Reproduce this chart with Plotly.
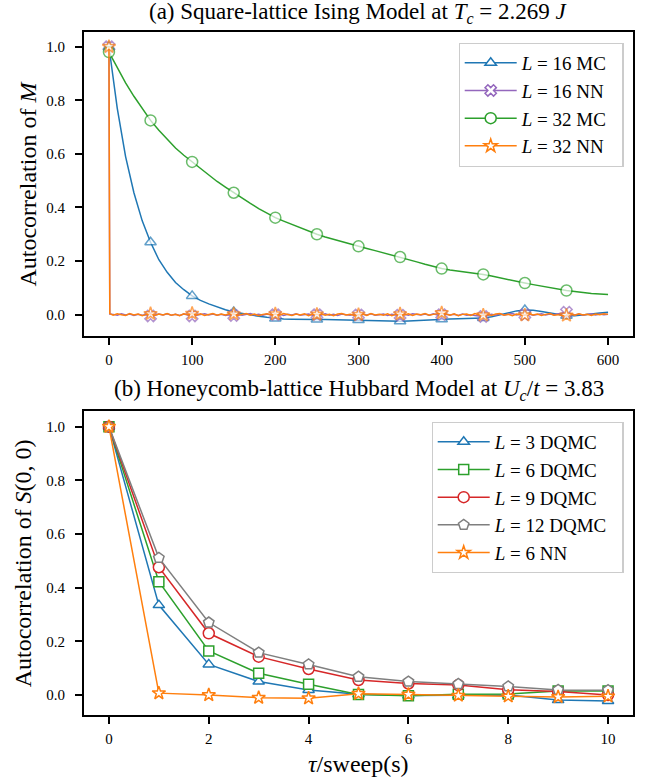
import plotly.graph_objects as go

# ---------------- data: panel (a) ----------------
tau_mc = list(range(0, 601, 10))
acf_L16_mc = [1.0, 0.77, 0.59, 0.455, 0.35, 0.27, 0.205, 0.158, 0.12, 0.093,
              0.07, 0.053, 0.04, 0.028, 0.018, 0.01, 0.004, -0.001, -0.006, -0.01,
              -0.014, -0.016, -0.017, -0.018, -0.018, -0.018, -0.018, -0.019, -0.019, -0.02,
              -0.02, -0.021, -0.022, -0.023, -0.024, -0.025, -0.024, -0.022, -0.02, -0.018,
              -0.017, -0.016, -0.015, -0.015, -0.014, -0.013, -0.008, 0.0, 0.008, 0.014,
              0.017, 0.016, 0.012, 0.006, 0.0, -0.004, -0.004, -0.002, 0.002, 0.006,
              0.009]
acf_L32_mc = [0.98, 0.92, 0.865, 0.815, 0.768, 0.725, 0.688, 0.653, 0.622, 0.595,
              0.57, 0.545, 0.52, 0.497, 0.476, 0.455, 0.435, 0.415, 0.396, 0.378,
              0.362, 0.349, 0.336, 0.324, 0.312, 0.30, 0.29, 0.281, 0.272, 0.263,
              0.255, 0.247, 0.239, 0.231, 0.223, 0.215, 0.206, 0.197, 0.188, 0.18,
              0.172, 0.167, 0.163, 0.159, 0.155, 0.15, 0.144, 0.137, 0.13, 0.124,
              0.118, 0.112, 0.106, 0.10, 0.095, 0.09, 0.086, 0.082, 0.079, 0.077,
              0.075]

tau_nn = [0, 1] + list(range(5, 601, 5))
acf_L16_nn = [1.0, 0.002,
              0.001, -0.002, 0.003, -0.001, 0.002, -0.003, 0.001, -0.002, 0.000, -0.005,
              -0.002, 0.002, -0.001, 0.003, -0.002, 0.001, -0.003, 0.002, -0.001, -0.005,
              -0.002, 0.001, 0.003, -0.001, 0.002, -0.002, 0.001, -0.003, 0.000, -0.003,
              0.001, -0.002, 0.002, 0.004, -0.001, 0.001, -0.002, 0.002, -0.001, 0.000,
              0.002, -0.003, 0.001, -0.001, 0.003, -0.002, 0.000, 0.002, -0.002, 0.000,
              -0.001, 0.003, -0.002, 0.001, -0.003, 0.002, 0.000, -0.002, 0.001, -0.001,
              0.002, -0.001, 0.003, -0.002, 0.000, 0.002, -0.003, 0.001, -0.001, -0.002,
              0.001, -0.002, 0.003, 0.000, -0.001, 0.002, -0.002, 0.003, -0.001, 0.000,
              0.002, -0.001, 0.001, -0.003, 0.002, -0.002, 0.000, -0.003, -0.004, -0.007,
              -0.003, 0.001, -0.002, 0.003, -0.001, 0.002, 0.004, -0.001, 0.001, 0.000,
              0.002, -0.002, 0.001, 0.003, -0.001, 0.002, 0.000, 0.004, 0.006, 0.009,
              0.003, -0.001, 0.002, -0.002, 0.001, 0.003, -0.001, 0.002, 0.000, 0.001]
acf_L32_nn = [1.0, 0.004,
              -0.002, 0.003, 0.000, -0.003, 0.004, -0.001, 0.002, -0.004, 0.001, 0.003,
              -0.003, 0.002, -0.001, 0.004, -0.002, 0.001, -0.004, 0.003, 0.000, 0.004,
              -0.002, 0.003, -0.003, 0.001, 0.004, -0.002, 0.002, -0.001, 0.003, 0.002,
              -0.003, 0.001, 0.004, -0.002, 0.002, -0.004, 0.001, 0.003, -0.001, 0.002,
              -0.002, 0.004, 0.000, -0.003, 0.002, -0.001, 0.003, -0.004, 0.002, 0.001,
              0.003, -0.002, 0.001, -0.004, 0.002, 0.004, -0.001, 0.001, -0.003, 0.000,
              0.002, -0.003, 0.004, -0.001, 0.001, -0.002, 0.003, -0.004, 0.001, 0.002,
              -0.001, 0.003, -0.003, 0.002, 0.000, 0.004, -0.002, 0.001, 0.003, 0.006,
              0.002, -0.002, 0.003, -0.004, 0.001, 0.002, -0.003, 0.004, -0.001, -0.002,
              0.001, -0.003, 0.002, 0.004, -0.002, 0.001, -0.004, 0.002, 0.000, -0.002,
              0.003, -0.001, 0.002, -0.003, 0.001, 0.004, -0.002, 0.000, -0.004, -0.003,
              0.002, -0.002, 0.003, -0.001, 0.001, -0.003, 0.002, 0.000, 0.003, 0.001]

xticks_a = [0, 100, 200, 300, 400, 500, 600]
yticks = [0.0, 0.2, 0.4, 0.6, 0.8, 1.0]

# ---------------- data: panel (b) ----------------
tau_b = [0, 1, 2, 3, 4, 5, 6, 7, 8, 9, 10]
acf_L3_dqmc = [1.0, 0.335, 0.114, 0.05, 0.019, 0.003, -0.002, -0.002, 0.0, -0.019, -0.022]
acf_L6_dqmc = [1.0, 0.422, 0.164, 0.081, 0.04, 0.002, -0.003, 0.003, 0.004, 0.015, 0.015]
acf_L9_dqmc = [1.0, 0.476, 0.23, 0.143, 0.097, 0.056, 0.043, 0.037, 0.02, 0.013, 0.0]
acf_L12_dqmc = [1.0, 0.511, 0.27, 0.158, 0.114, 0.068, 0.05, 0.041, 0.032, 0.019, 0.018]
acf_L6_nn = [1.0, 0.007, 0.0, -0.01, -0.012, 0.005, 0.002, -0.002, -0.005, -0.007, -0.005]
xticks_b = [0, 2, 4, 6, 8, 10]

BLUE, PURPLE, GREEN, ORANGE, RED, GREY = '#1f77b4', '#9467bd', '#2ca02c', '#ff7f0e', '#d62728', '#7f7f7f'
FONT = 'Liberation Serif'
LW = 1.5
MLW = 1.5
PAD = '\u00a0\u00a0'  # right padding inside the legend box


def lab(L, kind):
    return '<i>L</i> = ' + str(L) + ' ' + kind + PAD


fig = go.Figure()


def add_dense(tau, vals, color, symbol, name, size):
    marked = [(t % 50 == 0 and t <= 550) for t in tau]
    sizes = [size if m else 0 for m in marked]
    widths = [MLW if m else 0 for m in marked]
    # data curve, markers every 50 sweeps
    fig.add_trace(go.Scatter(
        x=tau, y=vals, mode='lines+markers', name=name, legendgroup=name, showlegend=False,
        line=dict(color=color, width=LW),
        marker=dict(symbol=symbol, size=sizes, color='white',
                    line=dict(color=color, width=widths)),
        xaxis='x', yaxis='y'))
    # legend key only (no data)
    fig.add_trace(go.Scatter(
        x=[None], y=[None], mode='lines+markers', name=name, legendgroup=name,
        line=dict(color=color, width=LW),
        marker=dict(symbol=symbol, size=size, color='white', line=dict(color=color, width=MLW)),
        xaxis='x', yaxis='y', legend='legend'))


add_dense(tau_mc, acf_L16_mc, BLUE, 'triangle-up', lab(16, 'MC'), 10)
add_dense(tau_nn, acf_L16_nn, PURPLE, 'x', lab(16, 'NN'), 10)
add_dense(tau_mc, acf_L32_mc, GREEN, 'circle', lab(32, 'MC'), 11)
add_dense(tau_nn, acf_L32_nn, ORANGE, 'star', lab(32, 'NN'), 10)


def add_b(vals, color, symbol, name, size):
    fig.add_trace(go.Scatter(
        x=tau_b, y=vals, mode='lines+markers', name=name,
        line=dict(color=color, width=LW),
        marker=dict(symbol=symbol, size=size, color='white',
                    line=dict(color=color, width=MLW)),
        xaxis='x2', yaxis='y2', legend='legend2'))


add_b(acf_L3_dqmc, BLUE, 'triangle-up', lab(3, 'DQMC'), 10)
add_b(acf_L6_dqmc, GREEN, 'square', lab(6, 'DQMC'), 10)
add_b(acf_L9_dqmc, RED, 'circle', lab(9, 'DQMC'), 11)
add_b(acf_L12_dqmc, GREY, 'pentagon', lab(12, 'DQMC'), 11)
add_b(acf_L6_nn, ORANGE, 'star', lab(6, 'NN'), 10)

axis_common = dict(showline=True, linecolor='black', linewidth=2, mirror=True,
                   ticks='outside', ticklen=7, tickwidth=1.5, tickcolor='black',
                   showgrid=False, zeroline=False,
                   tickfont=dict(family=FONT, size=15, color='black'))
xax = dict(ticklabelstandoff=2, **axis_common)
yax = dict(ticklabelstandoff=7, tickformat='.1f', **axis_common)

legend_common = dict(font=dict(family=FONT, size=19, color='black'),
                     bgcolor='rgba(255,255,255,0.8)', bordercolor='#cccccc', borderwidth=1.2,
                     xanchor='right', yanchor='top', traceorder='normal', itemwidth=52)

fig.update_layout(
    width=657, height=781,
    margin=dict(l=84, r=23.5, t=32, b=66),
    paper_bgcolor='white', plot_bgcolor='white',
    font=dict(family=FONT, color='black'),
    xaxis=dict(domain=[0, 1], range=[-30, 630], tickvals=xticks_a, anchor='y', **xax),
    yaxis=dict(domain=[0.555, 1], range=[-0.0795, 1.055], tickvals=yticks, anchor='x', **yax),
    xaxis2=dict(domain=[0, 1], range=[-0.5, 10.5], tickvals=xticks_b, anchor='y2', **xax),
    yaxis2=dict(domain=[0, 0.445], range=[-0.0745, 1.058], tickvals=yticks, anchor='x2', **yax),
    legend=dict(x=0.9827, y=0.9843, **legend_common),
    legend2=dict(x=0.9827, y=0.4294, **legend_common),
    showlegend=True,
)

fig.add_annotation(text='(a) Square-lattice Ising Model at <i>T<sub>c</sub></i> = 2.269 <i>J</i>',
                   xref='paper', yref='paper', x=0.5, y=1.028, xanchor='center', yanchor='middle',
                   showarrow=False, font=dict(family=FONT, size=23, color='black'))
fig.add_annotation(text='(b) Honeycomb-lattice Hubbard Model at <i>U<sub>c</sub></i>/<i>t</i> = 3.83',
                   xref='paper', yref='paper', x=0.5, y=0.4755, xanchor='center', yanchor='middle',
                   showarrow=False, font=dict(family=FONT, size=23, color='black'))
fig.add_annotation(text='Autocorrelation of <i>M</i>', textangle=-90,
                   xref='paper', yref='paper', x=-0.1028, y=0.7775, xanchor='center', yanchor='middle',
                   showarrow=False, font=dict(family=FONT, size=24, color='black'))
fig.add_annotation(text='Autocorrelation of <i>S</i>(0, 0)', textangle=-90,
                   xref='paper', yref='paper', x=-0.1106, y=0.2225, xanchor='center', yanchor='middle',
                   showarrow=False, font=dict(family=FONT, size=24, color='black'))
fig.add_annotation(text='<i>τ</i>/sweep(s)',
                   xref='paper', yref='paper', x=0.5, y=-0.0722, xanchor='center', yanchor='middle',
                   showarrow=False, font=dict(family=FONT, size=24, color='black'))

fig.write_html('out.html', config={'displayModeBar': False},
               post_script="document.body.style.margin='0px';document.body.style.overflow='hidden';")
